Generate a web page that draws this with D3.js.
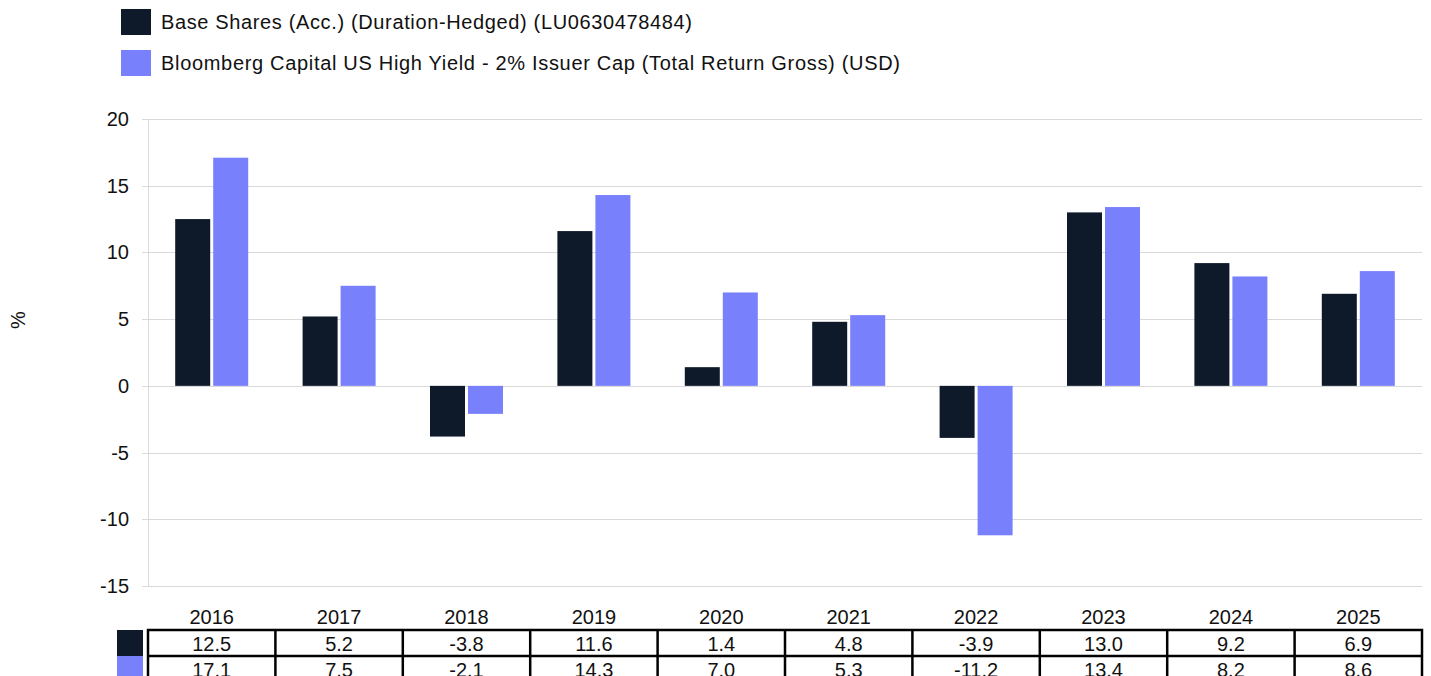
<!DOCTYPE html>
<html><head><meta charset="utf-8">
<script src="https://cdn.jsdelivr.net/npm/d3@7"></script>
<style>body{margin:0;background:#fff;overflow:hidden}svg{display:block;font-family:"Liberation Sans",Arial,sans-serif}</style>
</head><body><svg id="c" width="1431" height="676"></svg>
<script>
const years = ["2016","2017","2018","2019","2020","2021","2022","2023","2024","2025"];
const fundValues = [12.5,5.2,-3.8,11.6,1.4,4.8,-3.9,13.0,9.2,6.9];
const indexValues = [17.1,7.5,-2.1,14.3,7.0,5.3,-11.2,13.4,8.2,8.6];
const seriesNames = ["Base Shares (Acc.) (Duration-Hedged) (LU0630478484)","Bloomberg Capital US High Yield - 2% Issuer Cap (Total Return Gross) (USD)"];
const seriesColors = ["#0e1a2a","#7880fb"];
const yTicks = [20,15,10,5,0,-5,-10,-15];

const svg = d3.select("#c");
const L=148,R=1422,T=119,B=586;
const FS=20;
const x = d3.scaleBand().domain(years).range([L,R]);
const y = d3.scaleLinear().domain([-15,20]).range([B,T]);

// legend
const legendW=[531,739];
seriesNames.forEach((n,i)=>{
  const g=svg.append("g").attr("transform",`translate(121,${9+i*41})`);
  g.append("rect").attr("width",30).attr("height",26).attr("fill",seriesColors[i]);
  g.append("text").attr("x",40).attr("y",20).attr("font-size",FS).attr("fill","#111")
    .attr("textLength",legendW[i]).attr("lengthAdjust","spacing").text(n);
});

// gridlines
svg.append("g").selectAll("line").data(yTicks).join("line")
  .attr("x1",L-6).attr("x2",R).attr("y1",d=>Math.round(y(d))+0.5).attr("y2",d=>Math.round(y(d))+0.5)
  .attr("stroke","#d9d9d9").attr("stroke-width",1);
svg.append("line").attr("x1",L+0.5).attr("x2",L+0.5).attr("y1",T).attr("y2",B+0.5).attr("stroke","#d9d9d9");
svg.append("g").selectAll("text").data(yTicks).join("text")
  .attr("x",129).attr("y",d=>y(d)+7).attr("text-anchor","end").attr("font-size",FS).attr("fill","#111").text(d=>d);
svg.append("text").attr("transform",`translate(25,320) rotate(-90)`).attr("text-anchor","middle").attr("font-size",FS).attr("fill","#111").text("%");

// bars
const bw=35, gap=3;
[fundValues,indexValues].forEach((vals,si)=>{
  svg.append("g").selectAll("rect").data(vals).join("rect")
    .attr("x",(d,i)=>x(years[i])+x.bandwidth()/2 - bw - gap/2 + si*(bw+gap))
    .attr("width",bw)
    .attr("y",d=>y(Math.max(0,d)))
    .attr("height",d=>Math.abs(y(d)-y(0)))
    .attr("fill",seriesColors[si]);
});

// table
svg.append("g").selectAll("text").data(years).join("text")
  .attr("x",d=>x(d)+x.bandwidth()/2).attr("y",624).attr("text-anchor","middle").attr("font-size",FS).attr("fill","#111").text(d=>d);
const rowTop=[630,656], rh=26;
[fundValues,indexValues].forEach((vals,si)=>{
  svg.append("rect").attr("x",117).attr("y",rowTop[si]).attr("width",26).attr("height",rh).attr("fill",seriesColors[si]);
  svg.append("g").selectAll("text").data(vals).join("text")
    .attr("x",(d,i)=>x(years[i])+x.bandwidth()/2).attr("y",rowTop[si]+20.5).attr("text-anchor","middle").attr("font-size",FS).attr("fill","#111").text(d=>d.toFixed(1));
});
const tb=svg.append("g").attr("stroke","#000").attr("stroke-width",2.5).attr("fill","none");
tb.append("rect").attr("x",L).attr("y",630).attr("width",R-L).attr("height",rh*2);
tb.append("line").attr("x1",L).attr("x2",R).attr("y1",656).attr("y2",656);
years.slice(1).forEach(yr=>tb.append("line").attr("x1",x(yr)).attr("x2",x(yr)).attr("y1",630).attr("y2",684));
</script></body></html>
